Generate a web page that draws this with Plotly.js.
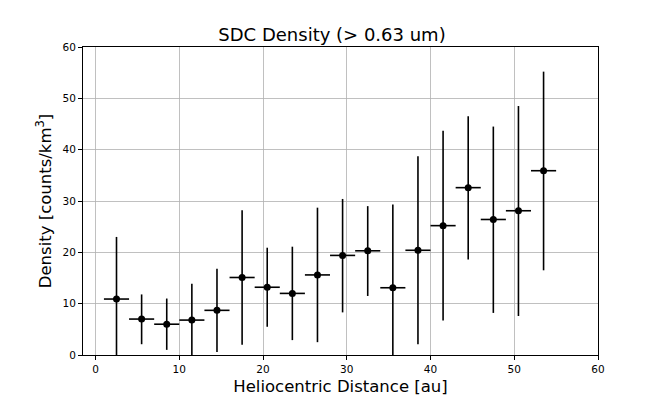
<!DOCTYPE html>
<html>
<head>
<meta charset="utf-8">
<script src="https://cdn.plot.ly/plotly-3.0.1.min.js"></script>
<style>
  body { margin: 0; background: white; }
  #graph { width: 664px; height: 399px; }
</style>
</head>
<body>
<div id="graph"></div>
<script>
// bin centres (au) and half width of each bin
var distance = [2.5, 5.5, 8.5, 11.5, 14.5, 17.5, 20.5, 23.5, 26.5, 29.5, 32.5, 35.5, 38.5, 41.5, 44.5, 47.5, 50.5, 53.5];
var binHalf = [1.5, 1.5, 1.5, 1.5, 1.5, 1.5, 1.5, 1.5, 1.5, 1.5, 1.5, 1.5, 1.5, 1.5, 1.5, 1.5, 1.5, 1.5];

// density and the upper / lower ends of the error bars
var density = [10.9, 7.0, 6.0, 6.8, 8.7, 15.1, 13.2, 12.0, 15.6, 19.4, 20.3, 13.1, 20.4, 25.2, 32.6, 26.4, 28.1, 35.9];
var upper   = [23.0, 11.8, 11.0, 13.9, 16.8, 28.2, 20.9, 21.1, 28.7, 30.4, 29.0, 29.3, 38.7, 43.7, 46.5, 44.5, 48.5, 55.2];
var lower   = [0.0, 2.1, 1.0, 0.0, 0.6, 2.0, 5.5, 2.9, 2.5, 8.3, 11.5, 0.0, 2.1, 6.7, 18.6, 8.2, 7.6, 16.5];

var xTicks = [0, 10, 20, 30, 40, 50, 60];
var yTicks = [0, 10, 20, 30, 40, 50, 60];

// error bar lengths from the ends
var errPlus = [], errMinus = [];
for (var i = 0; i < density.length; i++) {
  errPlus.push(upper[i] - density[i]);
  errMinus.push(density[i] - lower[i]);
}

var trace = {
  x: distance,
  y: density,
  mode: 'markers',
  type: 'scatter',
  marker: {color: 'black', size: 7},
  error_y: {type: 'data', symmetric: false, array: errPlus, arrayminus: errMinus,
            color: 'black', thickness: 1.6, width: 0},
  error_x: {type: 'data', array: binHalf, color: 'black', thickness: 1.6, width: 0},
  showlegend: false
};

var font = 'DejaVu Sans, sans-serif';

var layout = {
  width: 664,
  height: 399,
  margin: {l: 83, r: 66, t: 47, b: 44, pad: 0},
  paper_bgcolor: 'white',
  plot_bgcolor: 'white',
  font: {family: font, color: 'black'},
  title: {text: 'SDC Density (> 0.63 um)', font: {family: font, size: 18, color: 'black'},
          x: 0.5, xanchor: 'center', y: 0.898, yanchor: 'bottom'},
  xaxis: {
    title: {text: 'Heliocentric Distance [au]', font: {family: font, size: 16.5}, standoff: 6},
    range: [-1.5, 60],
    tickvals: xTicks,
    ticks: 'outside', ticklen: 4, tickwidth: 1, tickcolor: 'black',
    tickfont: {family: font, size: 10.5},
    showline: true, linecolor: 'black', linewidth: 1, mirror: true,
    showgrid: true, gridcolor: '#b0b0b0', gridwidth: 0.8,
    zeroline: false
  },
  yaxis: {
    title: {text: 'Density [counts/km<sup>3</sup>]', font: {family: font, size: 16.5}, standoff: 6},
    range: [0, 60],
    tickvals: yTicks,
    ticks: 'outside', ticklen: 4, tickwidth: 1, tickcolor: 'black',
    tickfont: {family: font, size: 10.5},
    showline: true, linecolor: 'black', linewidth: 1, mirror: true,
    showgrid: true, gridcolor: '#b0b0b0', gridwidth: 0.8,
    zeroline: false
  }
};

Plotly.newPlot('graph', [trace], layout, {displayModeBar: false, staticPlot: true});
</script>
</body>
</html>
